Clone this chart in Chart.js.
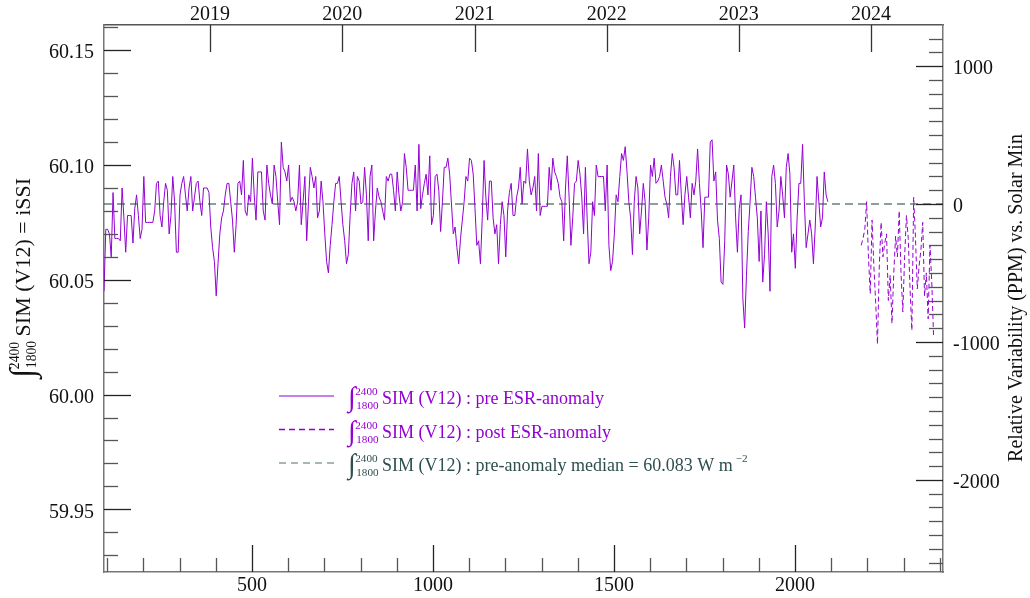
<!DOCTYPE html>
<html>
<head>
<meta charset="utf-8">
<script src="https://cdn.jsdelivr.net/npm/chart.js@4.4.1/dist/chart.umd.min.js"></script>
<style>
  body { margin: 0; background: #fff; }
  #wrap { width: 1030px; height: 598px; position: relative; }
</style>
</head>
<body>
<div id="wrap"><canvas id="issiChart"></canvas></div>
<script>
// Data
const medianValue = 60.083;            // W m^-2, pre-anomaly median
const xRange = [91, 2409];             // day number
const yRange = [59.9227, 60.161];      // W m^-2

// pre ESR-anomaly series, one value every 5 days from day 91
const preStartDay = 91;
const preStepDays = 5;
const preValues = [
  60.045, 60.072, 60.072, 60.070, 60.060, 60.088, 60.068, 60.068, 60.068, 60.067,
  60.090, 60.077, 60.062, 60.078, 60.078, 60.078, 60.066, 60.081, 60.087, 60.078,
  60.068, 60.072, 60.095, 60.075, 60.075, 60.075, 60.075, 60.075, 60.080, 60.092,
  60.093, 60.078, 60.073, 60.084, 60.092, 60.089, 60.070, 60.078, 60.095, 60.084,
  60.062, 60.062, 60.087, 60.092, 60.095, 60.087, 60.080, 60.090, 60.095, 60.080,
  60.086, 60.092, 60.093, 60.084, 60.078, 60.090, 60.090, 60.090, 60.088, 60.073,
  60.064, 60.058, 60.043, 60.057, 60.070, 60.077, 60.080, 60.087, 60.092, 60.092,
  60.084, 60.076, 60.062, 60.074, 60.092, 60.093, 60.087, 60.102, 60.080, 60.078,
  60.087, 60.084, 60.103, 60.087, 60.076, 60.097, 60.097, 60.097, 60.080, 60.076,
  60.100, 60.092, 60.087, 60.083, 60.100, 60.095, 60.084, 60.074, 60.110, 60.099,
  60.097, 60.093, 60.100, 60.084, 60.086, 60.084, 60.080, 60.084, 60.100, 60.074,
  60.084, 60.095, 60.067, 60.084, 60.099, 60.095, 60.090, 60.095, 60.077, 60.080,
  60.093, 60.084, 60.070, 60.058, 60.053, 60.065, 60.074, 60.084, 60.092, 60.092,
  60.095, 60.084, 60.074, 60.067, 60.057, 60.061, 60.078, 60.092, 60.097, 60.080,
  60.095, 60.093, 60.083, 60.084, 60.099, 60.087, 60.067, 60.095, 60.100, 60.067,
  60.080, 60.090, 60.086, 60.084, 60.080, 60.076, 60.095, 60.093, 60.096, 60.096,
  60.089, 60.080, 60.097, 60.087, 60.080, 60.084, 60.105, 60.099, 60.089, 60.089,
  60.089, 60.089, 60.100, 60.080, 60.109, 60.081, 60.087, 60.092, 60.096, 60.087,
  60.104, 60.074, 60.078, 60.095, 60.096, 60.089, 60.071, 60.084, 60.099, 60.099,
  60.103, 60.096, 60.083, 60.070, 60.073, 60.064, 60.057, 60.068, 60.076, 60.084,
  60.095, 60.093, 60.103, 60.102, 60.096, 60.081, 60.065, 60.067, 60.057, 60.077,
  60.102, 60.086, 60.076, 60.093, 60.093, 60.077, 60.070, 60.074, 60.057, 60.074,
  60.084, 60.078, 60.060, 60.080, 60.088, 60.092, 60.078, 60.078, 60.086, 60.090,
  60.099, 60.083, 60.093, 60.092, 60.107, 60.093, 60.087, 60.090, 60.095, 60.080,
  60.105, 60.078, 60.082, 60.082, 60.082, 60.082, 60.099, 60.089, 60.103, 60.097,
  60.095, 60.092, 60.086, 60.084, 60.067, 60.090, 60.104, 60.086, 60.065, 60.077,
  60.092, 60.093, 60.102, 60.096, 60.086, 60.070, 60.099, 60.076, 60.057, 60.062,
  60.084, 60.078, 60.100, 60.095, 60.095, 60.095, 60.095, 60.080, 60.100, 60.065,
  60.054, 60.058, 60.070, 60.087, 60.084, 60.095, 60.105, 60.102, 60.108, 60.097,
  60.084, 60.077, 60.061, 60.084, 60.095, 60.090, 60.070, 60.080, 60.092, 60.084,
  60.063, 60.077, 60.100, 60.095, 60.103, 60.092, 60.093, 60.095, 60.100, 60.093,
  60.086, 60.083, 60.077, 60.095, 60.105, 60.099, 60.087, 60.087, 60.102, 60.087,
  60.074, 60.087, 60.095, 60.086, 60.077, 60.092, 60.087, 60.093, 60.107, 60.092,
  60.080, 60.064, 60.086, 60.086, 60.086, 60.110, 60.111, 60.093, 60.097, 60.076,
  60.068, 60.049, 60.048, 60.067, 60.100, 60.096, 60.086, 60.093, 60.100, 60.077,
  60.062, 60.081, 60.087, 60.042, 60.029, 60.052, 60.071, 60.084, 60.099, 60.095,
  60.086, 60.077, 60.058, 60.080, 60.049, 60.061, 60.084, 60.070, 60.045, 60.095,
  60.100, 60.092, 60.073, 60.080, 60.095, 60.087, 60.077, 60.099, 60.105, 60.096,
  60.062, 60.070, 60.055, 60.077, 60.092, 60.092, 60.109, 60.084, 60.064, 60.070,
  60.076, 60.070, 60.057, 60.073, 60.095, 60.084, 60.073, 60.077, 60.097, 60.087,
  60.084
];

// post ESR-anomaly series, one value every 5 days from day 2183
const postStartDay = 2183;
const postStepDays = 5;
const postValues = [
  60.065, 60.068, 60.072, 60.084, 60.060, 60.044, 60.076, 60.056, 60.040, 60.022,
  60.056, 60.075, 60.060, 60.066, 60.070, 60.041, 60.052, 60.031, 60.053, 60.069,
  60.060, 60.080, 60.053, 60.036, 60.060, 60.078, 60.068, 60.046, 60.028, 60.086,
  60.068, 60.046, 60.056, 60.063, 60.075, 60.043, 60.053, 60.033, 60.065, 60.049,
  60.025
];

// axis ticks
const yearLabels = ['2019', '2020', '2021', '2022', '2023', '2024'];
const yearDays = [384, 749, 1115, 1480, 1845, 2210];
const bottomTickValues = [500, 1000, 1500, 2000];
const leftTickValues = [59.95, 60.00, 60.05, 60.10, 60.15];
const rightTickValues = [-2000, -1000, 0, 1000];

const legendLabels = [
  'SIM (V12) : pre ESR-anomaly',
  'SIM (V12) : post ESR-anomaly',
  'SIM (V12) : pre-anomaly median = ' + medianValue.toFixed(3) + ' W m'
];

const PURPLE = '#9400d3';
const SLATE = '#2f4f4f';
const MEDIAN_LINE = 'rgba(47, 79, 79, 0.55)';
const SERIF = '"Liberation Serif", "DejaVu Serif", serif';

function toPPM(v) {
  return (v / medianValue - 1) * 1e6;
}

function seriesPoints(start, step, values) {
  return values.map((v, i) => ({ x: start + i * step, y: v }));
}

// layout of "∫ 1800..2400 text": offsets relative to start x
function integralLayout(ctx, size, text) {
  ctx.save();
  ctx.font = (size * 1.55) + 'px ' + SERIF;
  const intW = ctx.measureText('\u222B').width;
  ctx.font = (size * 0.62) + 'px ' + SERIF;
  const limW = ctx.measureText('2400').width;
  ctx.font = size + 'px ' + SERIF;
  const textW = ctx.measureText(text).width;
  ctx.restore();
  const limX = intW * 0.95;
  const textX = limX + limW + size * 0.25;
  return { limX, textX, width: textX + textW };
}

function drawIntegralText(ctx, x, y, size, color, text, sup) {
  const L = integralLayout(ctx, size, text);
  ctx.save();
  ctx.fillStyle = color;
  ctx.textAlign = 'left';
  ctx.textBaseline = 'alphabetic';
  ctx.font = (size * 1.55) + 'px ' + SERIF;
  ctx.fillText('\u222B', x, y + size * 0.12);
  const small = size * 0.62;
  ctx.font = small + 'px ' + SERIF;
  ctx.fillText('2400', x + L.limX, y - size * 0.5);
  ctx.fillText('1800', x + L.limX + 1, y + size * 0.28);
  ctx.font = size + 'px ' + SERIF;
  ctx.fillText(text, x + L.textX, y);
  if (sup) {
    ctx.font = small + 'px ' + SERIF;
    ctx.fillText(sup, x + L.width + 3, y - size * 0.5);
  }
  ctx.restore();
  return L.width;
}

// inward tick marks, axis titles and legend
const decorPlugin = {
  id: 'decor',
  afterDraw(chart) {
    const ctx = chart.ctx;
    const a = chart.chartArea;
    const sx = chart.scales.x, sy = chart.scales.y, sr = chart.scales.yR, st = chart.scales.xTop;

    function line(x1, y1, x2, y2, color, w) {
      ctx.beginPath();
      ctx.strokeStyle = color;
      ctx.lineWidth = w;
      ctx.moveTo(x1, y1);
      ctx.lineTo(x2, y2);
      ctx.stroke();
    }

    ctx.save();
    // left axis: minor every 0.01, major every 0.05
    for (let k = 5993; k <= 6016; k++) {
      const py = Math.round(sy.getPixelForValue(k / 100)) + 0.5;
      if (py < a.top || py > a.bottom) continue;
      const major = k % 5 === 0;
      line(a.left, py, a.left + (major ? 27 : 14), py, major ? '#222' : '#555', 1.3);
    }
    // right axis: minor every 100 ppm, major every 1000
    for (let p = -2600; p <= 1200; p += 100) {
      const py = Math.round(sr.getPixelForValue(p)) + 0.5;
      if (py < a.top || py > a.bottom) continue;
      const major = p % 1000 === 0;
      line(a.right, py, a.right - (major ? 27 : 14), py, major ? '#222' : '#555', 1.3);
    }
    // bottom axis: minor every 100, major every 500
    for (let d = 100; d <= 2400; d += 100) {
      const px = Math.round(sx.getPixelForValue(d)) + 0.5;
      const major = d % 500 === 0;
      line(px, a.bottom, px, a.bottom - (major ? 27 : 14), major ? '#222' : '#555', 1.3);
    }
    // top axis: years
    yearDays.forEach(d => {
      const px = Math.round(st.getPixelForValue(d)) + 0.5;
      line(px, a.top, px, a.top + 27, '#333', 1.3);
    });

    // left axis title
    const leftTitle = 'SIM (V12) = iSSI';
    const lSize = 22;
    const lw = integralLayout(ctx, lSize, leftTitle).width;
    ctx.save();
    ctx.translate(30, 278);
    ctx.rotate(-Math.PI / 2);
    drawIntegralText(ctx, -lw / 2, 0, lSize, '#111', leftTitle);
    ctx.restore();

    // right axis title
    ctx.save();
    ctx.translate(1017, 298);
    ctx.rotate(-Math.PI / 2);
    ctx.font = '20px ' + SERIF;
    ctx.fillStyle = '#111';
    ctx.textAlign = 'center';
    ctx.textBaseline = 'middle';
    ctx.fillText('Relative Variability (PPM) vs. Solar Min', 0, 0);
    ctx.restore();

    // legend
    const rows = [
      { color: PURPLE, text: PURPLE, dash: [], sup: null },
      { color: PURPLE, text: PURPLE, dash: [6, 4], sup: null },
      { color: MEDIAN_LINE, text: SLATE, dash: [7, 5], sup: '\u22122' }
    ];
    rows.forEach((r, i) => {
      const ly = 396 + i * 33.5;
      ctx.save();
      ctx.setLineDash(r.dash);
      line(279, ly, 334, ly, r.color, r.dash.length ? 1.5 : 1);
      ctx.restore();
      drawIntegralText(ctx, 348, ly + 8, 18, r.text, legendLabels[i], r.sup);
    });
    ctx.restore();
  }
};

const tickFont = { family: SERIF, size: 20 };

new Chart(document.getElementById('issiChart'), {
  type: 'line',
  data: {
    datasets: [
      {
        label: 'median',
        data: [{ x: xRange[0], y: medianValue }, { x: xRange[1], y: medianValue }],
        borderColor: MEDIAN_LINE,
        borderWidth: 2,
        borderDash: [8, 5],
        pointRadius: 0,
        xAxisID: 'x',
        yAxisID: 'y'
      },
      {
        label: 'pre ESR-anomaly',
        data: seriesPoints(preStartDay, preStepDays, preValues),
        borderColor: PURPLE,
        borderWidth: 1,
        pointRadius: 0,
        tension: 0,
        xAxisID: 'x',
        yAxisID: 'y'
      },
      {
        label: 'post ESR-anomaly',
        data: seriesPoints(postStartDay, postStepDays, postValues),
        borderColor: PURPLE,
        borderWidth: 1,
        borderDash: [5, 3],
        pointRadius: 0,
        tension: 0,
        xAxisID: 'x',
        yAxisID: 'y'
      }
    ]
  },
  options: {
    responsive: true,
    maintainAspectRatio: false,
    animation: false,
    layout: { padding: 0 },
    plugins: {
      legend: { display: false },
      tooltip: { enabled: false }
    },
    scales: {
      x: {
        type: 'linear',
        position: 'bottom',
        min: xRange[0],
        max: xRange[1],
        afterBuildTicks: s => { s.ticks = bottomTickValues.map(v => ({ value: v })); },
        afterFit: s => { s.height = 26; },
        ticks: {
          font: tickFont, color: '#111', padding: 2, maxRotation: 0, autoSkip: false,
          callback: v => String(v)
        },
        grid: { display: false, drawTicks: false },
        border: { display: true, color: '#777', width: 1.5 }
      },
      xTop: {
        type: 'linear',
        axis: 'x',
        position: 'top',
        min: xRange[0],
        max: xRange[1],
        afterBuildTicks: s => { s.ticks = yearDays.map(v => ({ value: v })); },
        afterFit: s => { s.height = 25; },
        ticks: {
          font: tickFont, color: '#111', padding: -2, maxRotation: 0, autoSkip: false,
          callback: (v, i) => yearLabels[i]
        },
        grid: { display: false, drawTicks: false },
        border: { display: true, color: '#555', width: 1.5 }
      },
      y: {
        type: 'linear',
        position: 'left',
        min: yRange[0],
        max: yRange[1],
        afterBuildTicks: s => { s.ticks = leftTickValues.map(v => ({ value: v })); },
        afterFit: s => { s.width = 104; },
        ticks: {
          font: tickFont, color: '#111', padding: 10, autoSkip: false, labelOffset: 3,
          callback: v => v.toFixed(2)
        },
        grid: { display: false, drawTicks: false },
        border: { display: true, color: '#777', width: 1.5 }
      },
      yR: {
        type: 'linear',
        axis: 'y',
        position: 'right',
        min: toPPM(yRange[0]),
        max: toPPM(yRange[1]),
        afterBuildTicks: s => { s.ticks = rightTickValues.map(v => ({ value: v })); },
        afterFit: s => { s.width = 87; },
        ticks: {
          font: tickFont, color: '#111', padding: 10, autoSkip: false, labelOffset: 3,
          callback: v => String(v)
        },
        grid: { display: false, drawTicks: false },
        border: { display: true, color: '#777', width: 1.5 }
      }
    }
  },
  plugins: [decorPlugin]
});
</script>
</body>
</html>
